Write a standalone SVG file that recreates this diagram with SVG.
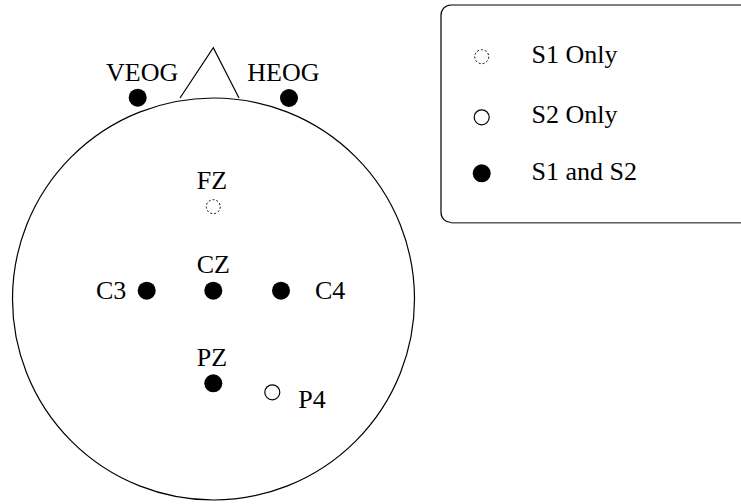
<svg xmlns="http://www.w3.org/2000/svg" width="741" height="504" viewBox="0 0 741 504">
<style>
text{font-family:"Liberation Serif","Times New Roman",serif;font-size:26px;fill:#000}
.line{fill:none;stroke:#000;stroke-width:1.2}
.both{fill:#000}
.s2{fill:#fff;stroke:#000;stroke-width:1.2}
.s1{fill:#fff;stroke:#000;stroke-width:1;stroke-dasharray:2 2}
</style>
<rect width="741" height="504" fill="#fff"/>
<g id="head">
<circle class="line" cx="213.5" cy="299" r="201"/>
<polyline class="line" points="180,98 213.3,47.7 239,98"/>
</g>
<g id="legend">
<path d="M760,5 H451 a10,10 0 0 0 -10,10 V212.5 a10,10 0 0 0 10,10 H760" fill="none" stroke="#000" stroke-width="1.2"/>
<line x1="451" y1="223" x2="741" y2="223" stroke="#888" stroke-width="1.5"/>
<circle class="s1" cx="481.7" cy="56.7" r="7"/>
<text x="531.5" y="63.3">S1 Only</text>
<circle class="s2" cx="481.7" cy="117.3" r="7.5"/>
<text x="531.5" y="123.3">S2 Only</text>
<circle class="both" cx="481.7" cy="173.3" r="9"/>
<text x="531.5" y="180">S1 and S2</text>
</g>
<g id="VEOG"><circle class="both" cx="137.7" cy="97.7" r="9"/><text x="106" y="81">VEOG</text></g>
<g id="HEOG"><circle class="both" cx="289" cy="98" r="9"/><text x="247.3" y="81">HEOG</text></g>
<g id="FZ"><circle class="s1" cx="213.3" cy="206.7" r="7"/><text x="196.7" y="189.3">FZ</text></g>
<g id="CZ"><circle class="both" cx="213.3" cy="290.7" r="9"/><text x="196.7" y="273.3">CZ</text></g>
<g id="C3"><circle class="both" cx="146.7" cy="290.7" r="9"/><text x="96" y="299.3">C3</text></g>
<g id="C4"><circle class="both" cx="281" cy="290.7" r="9"/><text x="315" y="299.3">C4</text></g>
<g id="PZ"><circle class="both" cx="213.3" cy="383.3" r="9"/><text x="196.7" y="365.7">PZ</text></g>
<g id="P4"><circle class="s2" cx="272.3" cy="392.3" r="7.5"/><text x="298.3" y="408.3">P4</text></g>
<g id="connectors"></g>
</svg>
